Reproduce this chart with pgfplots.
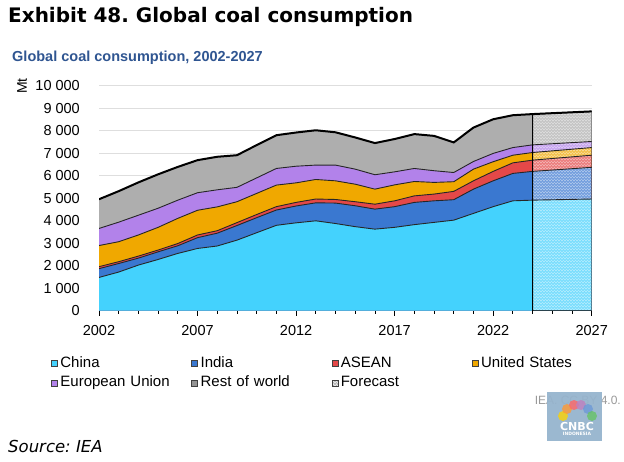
\documentclass[border=0pt]{standalone}
\usepackage{fontspec}
\setmainfont{Liberation Sans}
\newfontfamily\verd{DejaVu Sans}
\usepackage{pgfplots}
\pgfplotsset{compat=1.18}
\usepackage{pgfplotstable}
\usetikzlibrary{patterns.meta}
\frenchspacing

\definecolor{cChina}{RGB}{68,210,253}
\definecolor{cIndia}{RGB}{58,120,208}
\definecolor{cAsean}{RGB}{228,72,72}
\definecolor{cUS}{RGB}{240,168,0}
\definecolor{cEU}{RGB}{178,130,234}
\definecolor{cRest}{RGB}{174,174,174}
\definecolor{cSub}{RGB}{47,85,145}
\definecolor{cGrid}{RGB}{222,222,222}
\definecolor{cLogo}{RGB}{150,180,205}

\tikzdeclarepattern{
  name=whitehatch, type=colored,
  bottom left={(0pt,0pt)}, top right={(2.6pt,2.6pt)}, tile size={(2.6pt,2.6pt)},
  code={
    \draw[white, line width=0.6pt] (-0.5pt,3.1pt) -- (3.1pt,-0.5pt);
    \draw[white, line width=0.6pt] (-0.5pt,0.5pt) -- (0.5pt,-0.5pt);
    \draw[white, line width=0.6pt] (2.1pt,3.1pt) -- (3.1pt,2.1pt);
  }
}

% cumulative (stacked) values, Mt
\pgfplotstableread{
year china india asean us eu total
2002 1480 1870 1960 2900 3660 4960
2003 1720 2100 2180 3070 3940 5320
2004 2030 2340 2430 3370 4250 5710
2005 2280 2620 2700 3710 4560 6070
2006 2550 2890 2990 4110 4920 6400
2007 2770 3250 3370 4470 5250 6700
2008 2880 3450 3560 4620 5380 6850
2009 3140 3790 3920 4850 5490 6920
2010 3470 4140 4280 5220 5910 7370
2011 3800 4480 4630 5590 6330 7810
2012 3910 4660 4820 5690 6430 7930
2013 4000 4800 4970 5840 6480 8030
2014 3880 4790 4950 5780 6480 7940
2015 3740 4670 4850 5630 6300 7710
2016 3630 4520 4740 5410 6050 7460
2017 3710 4630 4890 5600 6180 7640
2018 3830 4820 5110 5750 6330 7860
2019 3930 4890 5190 5710 6230 7780
2020 4030 4940 5310 5740 6150 7490
2021 4330 5410 5780 6300 6640 8150
2022 4630 5780 6200 6630 7000 8520
2023 4890 6110 6580 6920 7260 8700
2024 4920 6200 6700 7040 7380 8750
2027 4970 6380 6920 7260 7530 8870
}\coal

\begin{document}
\begin{tikzpicture}[x=1pt,y=1pt]
\useasboundingbox (0,0) rectangle (624,461);
\node[anchor=west, inner sep=0pt, font=\verd\bfseries\fontsize{20}{23}\selectfont] at (8,444) {Exhibit 48. Global coal consumption};
\node[anchor=west, inner sep=0pt, font=\bfseries\fontsize{14.5}{16}\selectfont, text=cSub] at (12,403) {Global coal consumption, 2002-2027};
\begin{axis}[
  at={(99pt,150.3pt)}, anchor=south west,
  scale only axis, width=492.7pt, height=224.7pt,
  xmin=2002, xmax=2027, ymin=0, ymax=10000,
  axis lines*=left, axis line style={-},
  y axis line style={draw=none},
  x axis line style={black, line width=1pt},
  xtick={2002,2007,...,2027}, minor x tick num=4,
  ytick={0,1000,...,10000},
  scaled y ticks=false,
  tick align=outside,
  major tick length=5pt, minor tick length=3pt,
  x tick style={black, line width=0.8pt},
  y tick style={draw=none},
  ymajorgrids, grid style={cGrid, line width=1pt},
  /pgf/number format/.cd, 1000 sep={\ }, assume math mode=true, /pgfplots/.cd,
  xticklabel style={/pgf/number format/1000 sep={}, font=\fontsize{14.5}{17}\selectfont, inner sep=0pt, yshift=-9pt},
  yticklabel style={font=\fontsize{14.5}{17}\selectfont, inner sep=0pt, xshift=-14pt},
  ylabel={Mt}, ylabel style={at={(axis description cs:-0.156,1.0)}, anchor=center, font=\fontsize{14}{16}\selectfont},
  legend columns=4,
  legend style={at={(axis description cs:-0.0974,-0.202)}, anchor=north west, draw=none, fill=none, inner sep=0pt,
    font=\fontsize{15}{18}\selectfont,
    nodes={text width=131pt, inner sep=0pt, align=left, text height=11pt, text depth=3.5pt},
    /tikz/every odd column/.append style={column sep=2.5pt}, row sep=5pt},
  legend image code/.code={\draw[#1, draw=black!75, line width=0.7pt] (0pt,-3pt) rectangle (6pt,3pt);},
]
\addlegendimage{fill=cChina}\addlegendentry{China}
\addlegendimage{fill=cIndia}\addlegendentry{India}
\addlegendimage{fill=cAsean}\addlegendentry{ASEAN}
\addlegendimage{fill=cUS}\addlegendentry{United States}
\addlegendimage{fill=cEU}\addlegendentry{European Union}
\addlegendimage{fill=cRest!85!black}\addlegendentry{Rest of world}
\addlegendimage{fill=cRest, postaction={pattern=whitehatch}}\addlegendentry{Forecast}

\addplot[fill=cRest, draw=none, forget plot] table[x=year,y=total]{\coal} \closedcycle;
\addplot[fill=cEU, draw=none, forget plot] table[x=year,y=eu]{\coal} \closedcycle;
\addplot[fill=cUS, draw=none, forget plot] table[x=year,y=us]{\coal} \closedcycle;
\addplot[fill=cAsean, draw=none, forget plot] table[x=year,y=asean]{\coal} \closedcycle;
\addplot[fill=cIndia, draw=none, forget plot] table[x=year,y=india]{\coal} \closedcycle;
\addplot[fill=cChina, draw=none, forget plot] table[x=year,y=china]{\coal} \closedcycle;

\addplot[forget plot, draw=none, fill=white, fill opacity=0.22, postaction={pattern=whitehatch, fill opacity=0.6}, restrict x to domain=2024:2027] table[x=year,y=total]{\coal} \closedcycle;

\addplot[forget plot, black!85, line width=0.9pt] table[x=year,y=china]{\coal};
\addplot[forget plot, black!85, line width=0.9pt] table[x=year,y=india]{\coal};
\addplot[forget plot, black!85, line width=0.9pt] table[x=year,y=asean]{\coal};
\addplot[forget plot, black!85, line width=0.9pt] table[x=year,y=us]{\coal};
\addplot[forget plot, black!85, line width=0.9pt] table[x=year,y=eu]{\coal};
\addplot[forget plot, draw=black, line width=0.9pt, restrict x to domain=2024:2027] table[x=year,y=total]{\coal} \closedcycle;
\addplot[forget plot, black, line width=2pt] table[x=year,y=total]{\coal};
\end{axis}

\node[anchor=east, inner sep=0pt, text=black!40, font=\fontsize{12}{14}\selectfont] at (621,61) {IEA. CC BY 4.0.};
\fill[fill=cLogo, fill opacity=0.95] (547,20) rectangle (602,69);
\begin{scope}[fill opacity=0.8]
\fill[yellow!70!orange] (563,45) circle (5);
\fill[orange!80] (567,52) circle (5);
\fill[red!60] (574,56) circle (5);
\fill[violet!50] (581,56) circle (5);
\fill[cyan!50!blue!60] (588,52) circle (5);
\fill[green!60!black!60] (592,45) circle (5);
\end{scope}
\node[text=white, font=\verd\bfseries\fontsize{11}{12}\selectfont, inner sep=0pt] at (577,35) {CNBC};
\node[text=white, font=\verd\bfseries\fontsize{4.5}{5}\selectfont, inner sep=0pt] at (577,27) {INDONESIA};

\node[anchor=west, inner sep=0pt, font=\verd\itshape\fontsize{16.5}{19}\selectfont] at (8,15) {Source: IEA};
\end{tikzpicture}
\end{document}
